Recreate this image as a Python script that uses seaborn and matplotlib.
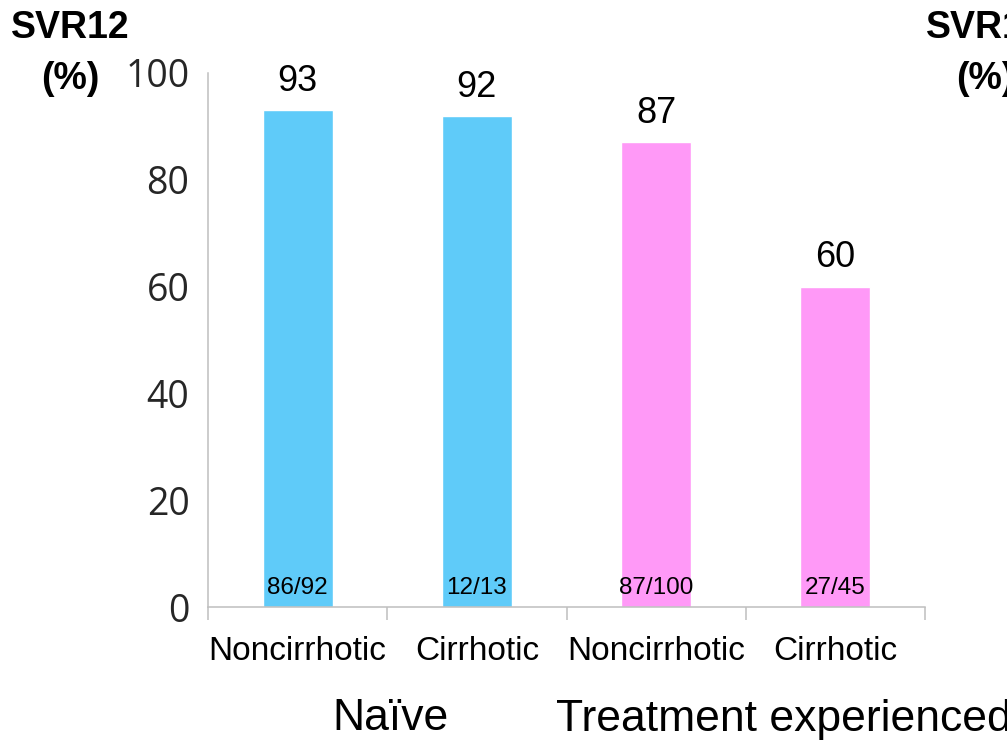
import matplotlib
matplotlib.use("Agg")
import matplotlib.pyplot as plt
import matplotlib.transforms as mtransforms
import seaborn as sns
import pandas as pd

# SVR12 by treatment history and cirrhosis status
groups = ["Naïve", "Naïve", "Treatment experienced", "Treatment experienced"]
status = ["Noncirrhotic", "Cirrhotic", "Noncirrhotic", "Cirrhotic"]
svr12 = [93, 92, 87, 60]
responders = ["86/92", "12/13", "87/100", "27/45"]
group_colors = {"Naïve": "#5FCBF9", "Treatment experienced": "#FF99F7"}

df = pd.DataFrame({
    "key": [f"{g}|{s}" for g, s in zip(groups, status)],
    "group": groups,
    "status": status,
    "svr12": svr12,
})

sns.set_theme(style="white")
GRAY = "#BFBFBF"
SANS = ["Liberation Sans", "DejaVu Sans"]

fig = plt.figure(figsize=(10.07, 7.44), dpi=100)
ax = fig.add_axes([0.2066, 0.1841, 0.712, 0.7178])

sns.barplot(data=df, x="key", y="svr12", hue="group", palette=group_colors,
            dodge=False, width=0.39, legend=False, saturation=1, ax=ax)

ax.set_xlim(-0.5, 3.5)
ax.set_ylim(0, 100)
ax.set_xlabel("")
ax.set_ylabel("")

# value labels above bars
for cont in ax.containers:
    vals = [int(round(b.get_height())) for b in cont]
    ax.bar_label(cont, labels=[str(v) for v in vals], padding=8,
                 fontsize=26, family=SANS, color="black")

# responder counts at the foot of each bar
for i, txt in enumerate(responders):
    ax.text(i, 3.5, txt, ha="center", va="center", fontsize=17.5,
            family=SANS, color="black")

# y axis
ax.set_yticks(range(0, 101, 20))
ax.tick_params(axis="y", direction="out", length=9.4, width=1.1,
               color=GRAY, pad=4, labelsize=27, labelcolor="#262626")
for lab in ax.get_yticklabels():
    lab.set_family(["Open Sans", "DejaVu Sans"])

# x axis: labels at bar centres, dividers between categories
ax.set_xticks(range(len(status)))
ax.set_xticklabels(status, family=SANS, fontsize=24)
ax.set_xticks([i - 0.5 for i in range(len(status) + 1)], minor=True)
ax.tick_params(axis="x", which="major", length=0, pad=21, labelcolor="black")
ax.tick_params(axis="x", which="minor", direction="out", length=9.4,
               width=1.1, color=GRAY, bottom=True)

for side in ["top", "right"]:
    ax.spines[side].set_visible(False)
for side in ["left", "bottom"]:
    ax.spines[side].set_color(GRAY)
    ax.spines[side].set_linewidth(1.1)

# group captions
trans = mtransforms.blended_transform_factory(ax.transData, fig.transFigure)
ax.text(0.52, 1 - 719 / 744, "Naïve", transform=trans, ha="center",
        va="center", fontsize=32, family=SANS, color="black")
ax.text(2.71, 1 - 719 / 744, "Treatment experienced", transform=trans,
        ha="center", va="center", fontsize=32, family=SANS, color="black",
        clip_on=False)

# axis titles
for xc in (70 / 1007, 985 / 1007):
    fig.text(xc, 1 - 28 / 744, "SVR12", ha="center", va="center",
             fontsize=27, fontweight="bold", family=SANS, color="black")
    fig.text(xc, 1 - 79 / 744, "(%)", ha="center", va="center",
             fontsize=27, fontweight="bold", family=SANS, color="black")

fig.savefig("out.png", dpi=100)
